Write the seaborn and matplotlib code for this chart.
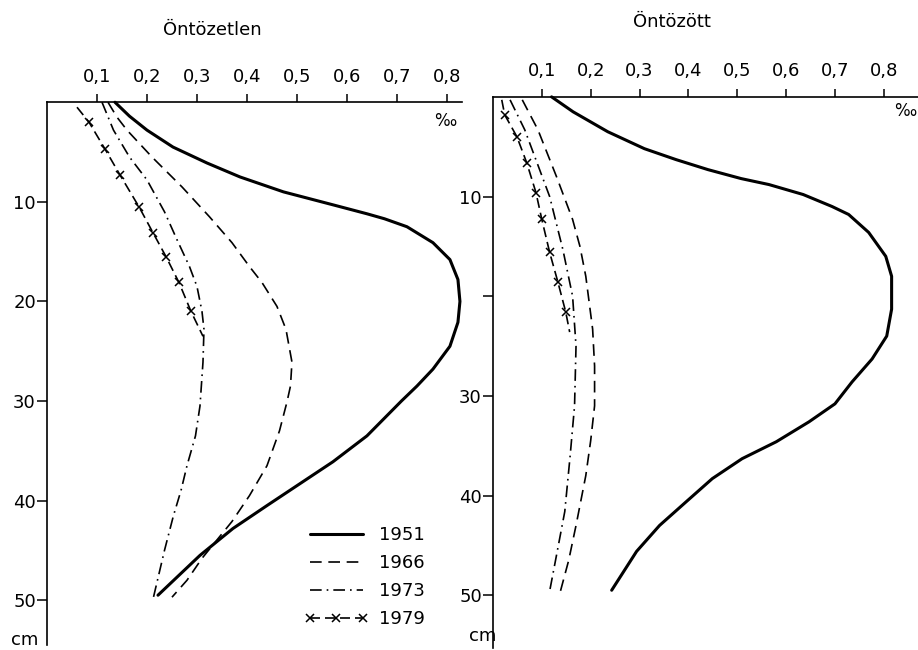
import matplotlib
matplotlib.use("Agg")
import pandas as pd
import seaborn as sns
import matplotlib.pyplot as plt

# values: depth (cm) vs content (per mille)
years = ["1951", "1966", "1973", "1979"]

# --- Öntözetlen (not irrigated) ---
left_1951_depth = [0, 1.4, 2.8, 4.5, 6.1, 7.5, 9, 10.3, 11.2, 11.7, 12.5, 14.1, 15.8, 17.8, 20,
                   22.1, 24.5, 26.8, 28.5, 30, 33.5, 36.1, 38.3, 40.5, 42.8, 45.5, 49.5]
left_1951_val = [0.136, 0.165, 0.2, 0.252, 0.32, 0.386, 0.473, 0.572, 0.64, 0.675, 0.72, 0.772,
                 0.806, 0.822, 0.826, 0.822, 0.806, 0.772, 0.74, 0.709, 0.64, 0.572, 0.506,
                 0.44, 0.372, 0.306, 0.222]
left_1966_depth = [0, 1.5, 2.8, 5.5, 8.5, 11.5, 14.1, 16.5, 18.1, 20.5, 22.8, 26.1, 28.5, 30.1,
                   33, 36.5, 39.5, 42.1, 45.8, 48, 49.7]
left_1966_val = [0.122, 0.14, 0.16, 0.21, 0.27, 0.325, 0.37, 0.405, 0.43, 0.46, 0.478, 0.49,
                 0.487, 0.48, 0.465, 0.44, 0.405, 0.37, 0.31, 0.28, 0.25]
left_1973_depth = [0, 2.8, 5.5, 7.8, 11, 13.8, 16.5, 18.5, 21, 22.8, 26.1, 30.5, 33.5, 36.5,
                   39, 41.5, 45, 49.7]
left_1973_val = [0.11, 0.133, 0.165, 0.2, 0.235, 0.26, 0.285, 0.30, 0.31, 0.314, 0.312, 0.306,
                 0.297, 0.28, 0.268, 0.253, 0.235, 0.213]
left_1979_depth = [0.5, 2, 4.7, 7.3, 10.5, 13.1, 15.5, 18.1, 21, 23.5]
left_1979_val = [0.06, 0.084, 0.116, 0.146, 0.184, 0.212, 0.238, 0.264, 0.288, 0.312]

# --- Öntözött (irrigated) ---
right_1951_depth = [0, 1.5, 3.5, 5.2, 6.3, 7.3, 8.2, 8.8, 9.8, 11, 11.8, 13.6, 16, 18,
                    21.3, 24, 26.3, 28.6, 30.8, 32.6, 34.6, 36.3, 38.3, 40.6, 43, 45.6, 49.5]
right_1951_val = [0.12, 0.164, 0.235, 0.31, 0.375, 0.44, 0.508, 0.565, 0.635, 0.694, 0.728,
                  0.769, 0.804, 0.816, 0.816, 0.806, 0.776, 0.735, 0.70, 0.647, 0.58,
                  0.51, 0.449, 0.396, 0.341, 0.294, 0.243]
right_1966_depth = [0.3, 3.3, 8, 12.3, 15, 18, 23.3, 27, 31, 34.5, 38, 43, 46.5, 49.8]
right_1966_val = [0.06, 0.092, 0.13, 0.163, 0.178, 0.19, 0.204, 0.208, 0.208, 0.2, 0.19, 0.17,
                  0.155, 0.137]
right_1973_depth = [0.3, 3.3, 10, 15.3, 20, 25, 31, 36, 41.6, 46, 49.6]
right_1973_val = [0.035, 0.065, 0.116, 0.143, 0.163, 0.17, 0.167, 0.158, 0.147, 0.13, 0.116]
right_1979_depth = [0.3, 1.8, 4, 6.6, 9.6, 12.3, 15.6, 18.6, 21.6, 23.6]
right_1979_val = [0.018, 0.024, 0.049, 0.069, 0.088, 0.1, 0.116, 0.133, 0.149, 0.157]

x_ticks = [0.1, 0.2, 0.3, 0.4, 0.5, 0.6, 0.7, 0.8]
x_ticklabels = ["0,1", "0,2", "0,3", "0,4", "0,5", "0,6", "0,7", "0,8"]
y_ticks = [10, 20, 30, 40, 50]
left_yticklabels = ["10", "20", "30", "40", "50"]
right_yticklabels = ["10", "", "30", "40", "50"]

styles = {
    "1951": dict(lw=2.2, linestyle="-"),
    "1966": dict(lw=1.2, linestyle=(0, (7, 4))),
    "1973": dict(lw=1.2, linestyle=(0, (7, 3, 1, 3))),
    "1979": dict(lw=1.2, linestyle=(0, (6, 3)), marker="x", markersize=6,
                 markeredgewidth=1.1, markeredgecolor="black", markevery=slice(1, -1)),
}

sns.set_style("ticks", rc={"text.color": "black", "axes.edgecolor": "black",
                           "xtick.color": "black", "ytick.color": "black",
                           "axes.labelcolor": "black"})
plt.rcParams["font.family"] = ["DejaVu Sans"]
plt.rcParams["font.size"] = 13

fig = plt.figure(figsize=(9.18, 6.5), dpi=100)
ax_l = fig.add_axes([0.0512, 0.0077, 0.452, 0.835])
ax_r = fig.add_axes([0.537, 0.003, 0.463, 0.848])

panels = [
    (ax_l, {"1951": (left_1951_depth, left_1951_val), "1966": (left_1966_depth, left_1966_val),
            "1973": (left_1973_depth, left_1973_val), "1979": (left_1979_depth, left_1979_val)},
     0.83, 54.5, left_yticklabels),
    (ax_r, {"1951": (right_1951_depth, right_1951_val), "1966": (right_1966_depth, right_1966_val),
            "1973": (right_1973_depth, right_1973_val), "1979": (right_1979_depth, right_1979_val)},
     0.87, 55.3, right_yticklabels),
]

for ax, series, xmax, ymax, ylabels in panels:
    for yr in years:
        depth, val = series[yr]
        df = pd.DataFrame({"depth": depth, "val": val})
        sns.lineplot(data=df, x="val", y="depth", sort=False, estimator=None,
                     color="black", ax=ax, label=yr, clip_on=False, **styles[yr])
    ax.set_xlim(0, xmax)
    ax.set_ylim(ymax, 0)
    ax.xaxis.tick_top()
    ax.set_xticks(x_ticks)
    ax.set_xticklabels(x_ticklabels)
    ax.set_yticks(y_ticks)
    ax.set_yticklabels(ylabels)
    ax.set_xlabel("")
    ax.set_ylabel("")
    ax.tick_params(axis="x", direction="out", length=6, width=1.1, pad=6, labelsize=13)
    ax.tick_params(axis="y", direction="out", length=7, width=1.1, pad=1, labelsize=13)
    for side in ["right", "bottom"]:
        ax.spines[side].set_visible(False)
    for side in ["top", "left"]:
        ax.spines[side].set_linewidth(1.2)
    ax.set_facecolor("none")
    if ax.get_legend() is not None:
        ax.get_legend().remove()

ax_l.legend(loc="upper left", bbox_to_anchor=(0.332, 0.19), bbox_transform=fig.transFigure,
            frameon=False, borderpad=0, borderaxespad=0, handlelength=3.5,
            handletextpad=0.6, labelspacing=0.55, numpoints=3, fontsize=13)

fig.text(212 / 918, 1 - 30 / 650, "Öntözetlen", ha="center", va="center", fontsize=13)
fig.text(672 / 918, 1 - 22 / 650, "Öntözött", ha="center", va="center", fontsize=13)
fig.text(445 / 918, 1 - 121 / 650, "‰", ha="center", va="center", fontsize=12)
fig.text(905 / 918, 1 - 111 / 650, "‰", ha="center", va="center", fontsize=12)
fig.text(25 / 918, 1 - 640 / 650, "cm", ha="center", va="center", fontsize=13)
fig.text(483 / 918, 1 - 636 / 650, "cm", ha="center", va="center", fontsize=13)

fig.savefig("out.png", dpi=100, facecolor="white")
